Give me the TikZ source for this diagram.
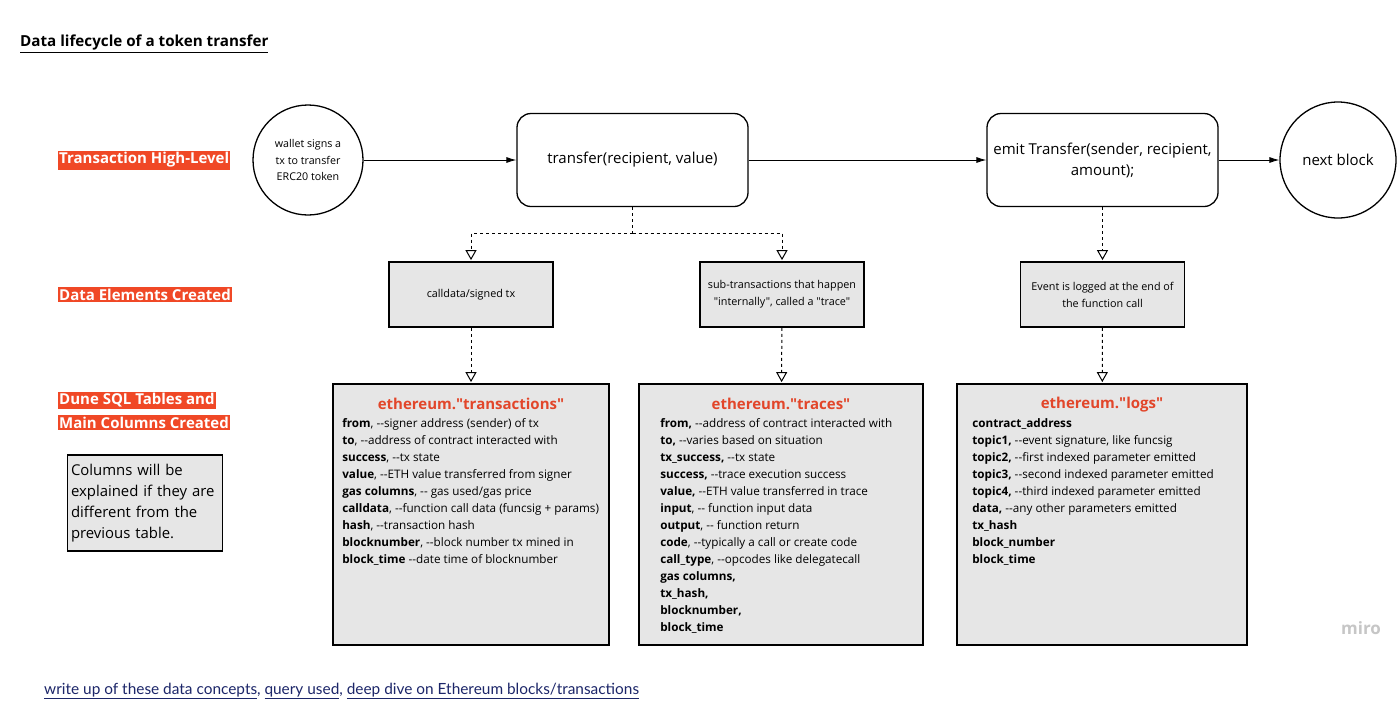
\documentclass[tikz,border=0pt]{standalone}
\usepackage{fontspec}
\setmainfont{Open Sans}[Ligatures=TeXOff]
\newfontfamily\linkfont{Lato}
\usetikzlibrary{arrows.meta}
\usetikzlibrary{positioning}
\definecolor{labelred}{RGB}{240,72,38}
\definecolor{titlered}{RGB}{226,70,42}
\definecolor{boxgray}{RGB}{230,230,230}
\definecolor{linkblue}{RGB}{28,38,105}
\newcommand\fsize[2]{\fontsize{#1}{#2}\selectfont}

\begin{document}
\begin{tikzpicture}[x=1pt,y=-1pt,
  hilabel/.style={fill=labelred,text=white,font=\bfseries\fsize{15}{18},inner xsep=1pt,inner ysep=2pt,anchor=west},
  roundbox/.style={draw,line width=1.3pt,rounded corners=14pt,minimum width=231pt,minimum height=93pt,align=center,font=\fsize{15}{21}},
  bubble/.style={draw,line width=1.3pt,circle,inner sep=0pt,align=center},
  databox/.style={draw,line width=1.8pt,fill=boxgray,minimum width=164pt,minimum height=65pt,align=center,font=\fsize{10.8}{17}},
  tablebox/.style={draw,line width=1.8pt,fill=boxgray,minimum height=261pt},
  tabletitle/.style={text=titlered,font=\bfseries\fsize{15}{18}},
  tablecols/.style={anchor=north west,inner sep=0pt,align=left,font=\fsize{11.7}{17}},
  flow/.style={line width=0.8pt,-{Latex[length=10pt,width=6pt]}},
  derive/.style={line width=1pt,dash pattern=on 3pt off 3pt,-{Triangle[open,length=10pt,width=11pt,line width=1pt,sep=1pt]}}]
  % Constants
  \pgfmathsetmacro\rowa{160}
  \pgfmathsetmacro\rowb{294.5}
  \pgfmathsetmacro\rowc{514.5}
  % Boundary
  \path[use as bounding box,fill=white] (0,0) rectangle (1400,713);
  % Title
  \node[anchor=west,inner sep=0pt,font=\bfseries\fsize{15.2}{18}] (title) at (20,44) {\underline{Data lifecycle of a token transfer}};
  % Row labels
  \node[hilabel] (lhigh) at (58,\rowa) {Transaction High-Level};
  \node[hilabel] (lelem) at (58,\rowb) {Data Elements Created};
  \node[hilabel] (ldunea) at (58,400.5) {Dune SQL Tables and};
  \node[hilabel] (lduneb) at (58,422.5) {Main Columns Created};
  \node[draw,line width=1.5pt,fill=boxgray,minimum width=154pt,minimum height=96pt,text width=148pt,align=left,font=\fsize{14.9}{21}] (note) at (145,503) {Columns will be\\explained if they are\\different from the\\previous table.};
  % High-level flow
  \node[bubble,minimum size=110pt,font=\fsize{10.7}{16.5}] (wallet) at (308,160) {wallet signs a\\tx to transfer\\ERC20 token};
  \node[roundbox] (transfer) at (632.5,\rowa) {transfer(recipient, value)};
  \node[roundbox] (emit) at (1102.5,\rowa) {emit Transfer(sender, recipient,\\amount);};
  \node[bubble,minimum size=116pt,font=\fsize{15}{18}] (next) at (1338,\rowa) {next block};
  \draw[flow] (wallet) -- (transfer);
  \draw[flow] (transfer) -- (emit);
  \draw[flow] (emit) -- (next);
  % Data elements
  \node[databox] (calldata) at (471,\rowb) {calldata/signed tx};
  \node[databox] (trace) at (782,\rowb) {sub-transactions that happen\\"internally", called a "trace"};
  \node[databox] (event) at (1102.5,\rowb) {Event is logged at the end of\\the function call};
  \draw[line width=1pt,dash pattern=on 3pt off 3pt] (transfer.south) -- ++(0,26) coordinate (fork);
  \draw[derive] (fork) -| (calldata.north);
  \draw[derive] (fork) -| (trace.north);
  \draw[derive] (emit) -- (event);
  % Dune tables
  \node[tablebox,minimum width=276pt] (txtab) at (471,\rowc) {};
  \node[tablebox,minimum width=284pt] (trtab) at (781,\rowc) {};
  \node[tablebox,minimum width=290pt] (lgtab) at (1102,\rowc) {};
  \draw[derive] (calldata) -- (txtab);
  \draw[derive] (trace) -- (trtab);
  \draw[derive] (event) -- (lgtab);
  \node[tabletitle] (txtitle) at ([yshift=-21pt]txtab.north) {ethereum."transactions"};
  \node[tabletitle] (trtitle) at ([yshift=-21pt]trtab.north) {ethereum."traces"};
  \node[tabletitle] (lgtitle) at ([yshift=-21pt]lgtab.north) {ethereum."logs"};
  \node[tablecols] (txcols) at ([xshift=10pt,yshift=-35pt]txtab.north west) {%
    \textbf{from}, --signer address (sender) of tx\\
    \textbf{to}, --address of contract interacted with\\
    \textbf{success}, --tx state\\
    \textbf{value}, --ETH value transferred from signer\\
    \textbf{gas columns}, -- gas used/gas price\\
    \textbf{calldata}, --function call data (funcsig + params)\\
    \textbf{hash}, --transaction hash\\
    \textbf{blocknumber}, --block number tx mined in\\
    \textbf{block\_time} --date time of blocknumber};
  \node[tablecols] (trcols) at ([xshift=22pt,yshift=-35pt]trtab.north west) {%
    \textbf{from,} --address of contract interacted with\\
    \textbf{to,} --varies based on situation\\
    \textbf{tx\_success,} --tx state\\
    \textbf{success,} --trace execution success\\
    \textbf{value,} --ETH value transferred in trace\\
    \textbf{input}, -- function input data\\
    \textbf{output}, -- function return\\
    \textbf{code}, --typically a call or create code\\
    \textbf{call\_type}, --opcodes like delegatecall\\
    \textbf{gas columns,}\\
    \textbf{tx\_hash,}\\
    \textbf{blocknumber,}\\
    \textbf{block\_time}};
  \node[tablecols] (lgcols) at ([xshift=16pt,yshift=-35pt]lgtab.north west) {%
    \textbf{contract\_address}\\
    \textbf{topic1,} --event signature, like funcsig\\
    \textbf{topic2,} --first indexed parameter emitted\\
    \textbf{topic3,} --second indexed parameter emitted\\
    \textbf{topic4,} --third indexed parameter emitted\\
    \textbf{data,} --any other parameters emitted\\
    \textbf{tx\_hash}\\
    \textbf{block\_number}\\
    \textbf{block\_time}};
  % Footer
  \node[text=gray!45,font=\bfseries\fsize{17}{19}] (miro) at (1361,628) {miro};
  \node[anchor=west,inner sep=0pt,text=linkblue,font=\linkfont\fsize{15.4}{18}] (links) at (44,691) {\underline{write up of these data concepts}, \underline{query used}, \underline{deep dive on Ethereum blocks/transactions}};
\end{tikzpicture}
\end{document}
